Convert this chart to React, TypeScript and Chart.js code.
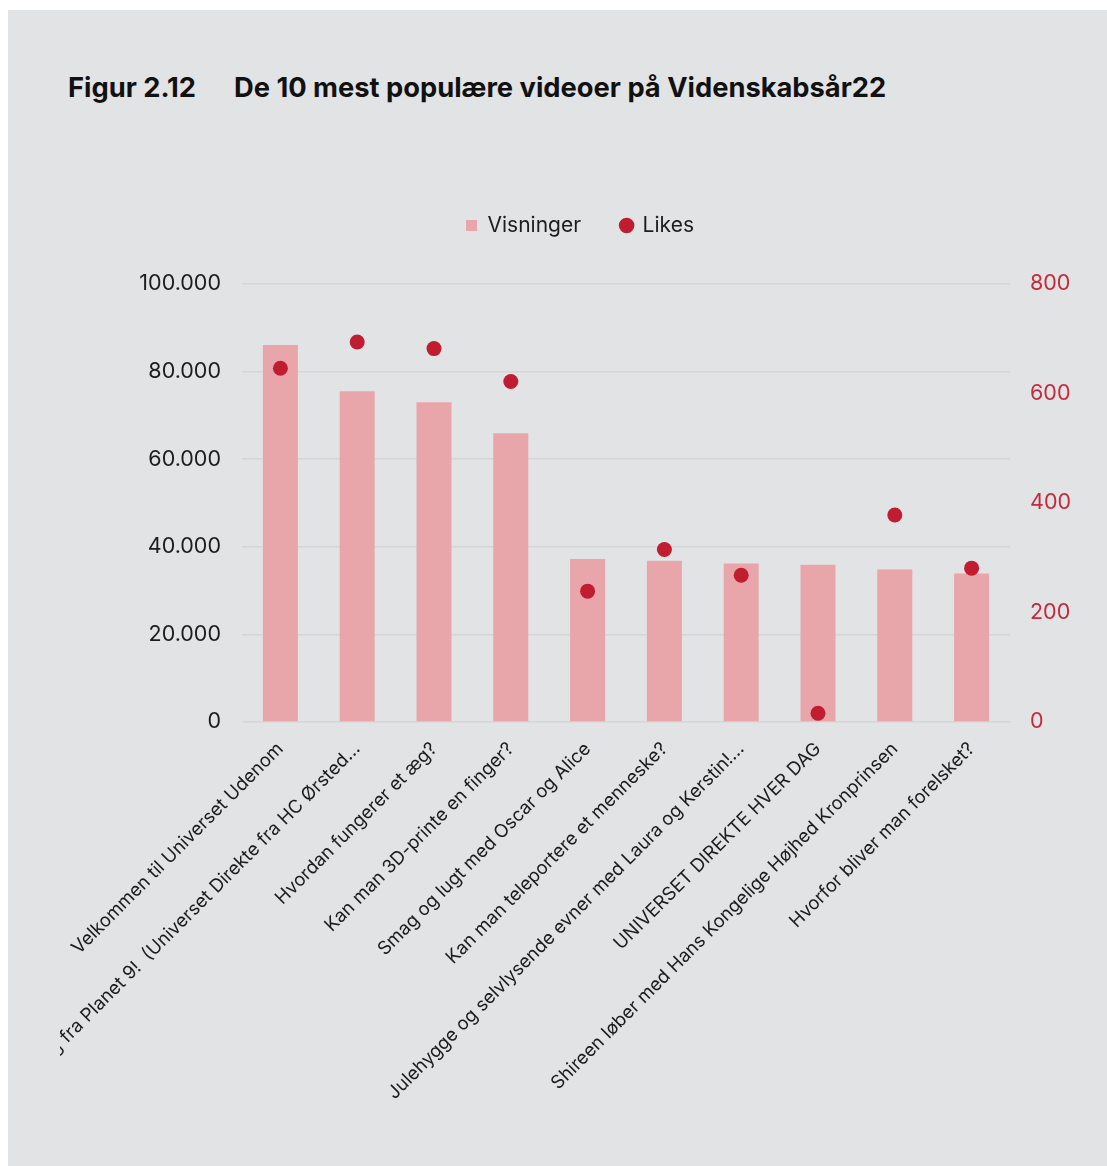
import React, { useEffect, useRef } from "react";
import { Chart, registerables } from "chart.js";

Chart.register(...registerables);

const categories = [
  "Velkommen til Universet Udenom",
  "Hilsning fra Planet 9!  (Universet Direkte fra HC Ørsted...",
  "Hvordan fungerer et æg?",
  "Kan man 3D-printe en finger?",
  "Smag og lugt med Oscar og Alice",
  "Kan man teleportere et menneske?",
  "Julehygge og selvlysende evner med Laura og Kerstin!...",
  "UNIVERSET DIREKTE HVER DAG",
  "Shireen løber med Hans Kongelige Højhed Kronprinsen",
  "Hvorfor bliver man forelsket?",
];

const visninger = [86100, 75500, 73000, 65900, 37200, 36800, 36200, 35900, 34800, 33900];
const likes = [646, 694, 682, 622, 239, 315, 268, 16, 378, 281];

const leftMax = 100000;
const leftStep = 20000;
const rightMax = 800;
const rightStep = 200;

const seriesNames = ["Visninger", "Likes"];

const FONT = "Inter, 'Noto Sans', sans-serif";
const PINK = "#e8a6ab";
const RED = "#c01d31";
const RED_TEXT = "#c32a3c";
const GRID = "#d4d5d7";
const BG = "#e2e3e5";
const TEXT = "#1c1c1c";

const fmt = (v: number) => String(v).replace(/\B(?=(\d{3})+(?!\d))/g, ".");

const legendGap = {
  id: "legendGap",
  beforeInit(chart: any) {
    const lg = chart.legend;
    if (!lg) return;
    const orig = lg.fit;
    lg.fit = function () {
      orig.call(this);
      this.height += 38;
    };
  },
};

export default function App() {
  const ref = useRef<HTMLCanvasElement>(null);

  useEffect(() => {
    const canvas = ref.current;
    if (!canvas) return;
    const chart = new Chart(canvas, {
      type: "bar",
      data: {
        labels: categories,
        datasets: [
          {
            type: "bar",
            label: seriesNames[0],
            data: visninger,
            yAxisID: "y",
            backgroundColor: PINK,
            borderWidth: 0,
            barPercentage: 0.456,
            categoryPercentage: 1,
            order: 2,
          } as any,
          {
            type: "line",
            label: seriesNames[1],
            data: likes,
            yAxisID: "y1",
            showLine: false,
            pointRadius: 7.5,
            pointHoverRadius: 7.5,
            pointBackgroundColor: RED,
            pointBorderWidth: 0,
            backgroundColor: RED,
            borderColor: RED,
            order: 1,
          } as any,
        ],
      },
      plugins: [legendGap],
      options: {
        responsive: false,
        animation: false,
        layout: { padding: 0 },
        plugins: {
          tooltip: { enabled: false },
          legend: {
            position: "top",
            labels: {
              font: { family: FONT, size: 21 },
              color: TEXT,
              usePointStyle: true,
              boxWidth: 11,
              boxHeight: 11,
              padding: 40,
              sort: (a: any, b: any) => a.datasetIndex - b.datasetIndex,
              generateLabels: (ch: any) => {
                const items = (Chart.defaults.plugins.legend.labels as any).generateLabels(ch);
                items.forEach((it: any) => {
                  it.pointStyle = it.datasetIndex === 0 ? "rect" : "circle";
                  it.lineWidth = 0;
                  it.fillStyle = it.datasetIndex === 0 ? PINK : RED;
                  it.strokeStyle = it.fillStyle;
                });
                return items;
              },
            },
          },
        },
        scales: {
          x: {
            grid: { display: false },
            border: { display: false },
            ticks: {
              font: { family: FONT, size: 18.5 },
              color: TEXT,
              maxRotation: 45,
              minRotation: 45,
              autoSkip: false,
              padding: 8,
            },
            afterFit: (s: any) => {
              s.height = 386;
              s.paddingLeft = 0;
              s.paddingRight = 0;
            },
          },
          y: {
            position: "left",
            min: 0,
            max: leftMax,
            ticks: {
              stepSize: leftStep,
              font: { family: FONT, size: 21.5 },
              color: TEXT,
              padding: 21,
              callback: (v: any) => fmt(Number(v)),
            },
            grid: { color: GRID, lineWidth: 1.5, drawTicks: false },
            border: { display: false },
            afterFit: (s: any) => {
              s.width = 182;
              s.paddingTop = 0;
              s.paddingBottom = 0;
            },
          },
          y1: {
            position: "right",
            min: 0,
            max: rightMax,
            ticks: {
              stepSize: rightStep,
              font: { family: FONT, size: 21.5 },
              color: RED_TEXT,
              padding: 20,
            },
            grid: { display: false, drawTicks: false },
            border: { display: false },
            afterFit: (s: any) => {
              s.width = 90;
              s.paddingTop = 0;
              s.paddingBottom = 0;
            },
          },
        },
      } as any,
    });
    return () => chart.destroy();
  }, []);

  return (
    <div
      style={{
        position: "absolute",
        left: 8,
        top: 10,
        width: 1099,
        height: 1156,
        background: BG,
        overflow: "hidden",
      }}
    >
      <div
        style={{
          position: "absolute",
          left: 60,
          top: 62,
          lineHeight: "32px",
          fontFamily: FONT,
          fontWeight: 700,
          fontSize: 27.3,
          color: "#111",
          whiteSpace: "nowrap",
        }}
      >
        <span style={{ display: "inline-block", width: 166 }}>Figur 2.12</span>
        <span>De 10 mest populære videoer på Videnskabsår22</span>
      </div>
      <canvas
        ref={ref}
        width={1040}
        height={933}
        style={{ position: "absolute", left: 52, top: 165, display: "block" }}
      />
    </div>
  );
}
